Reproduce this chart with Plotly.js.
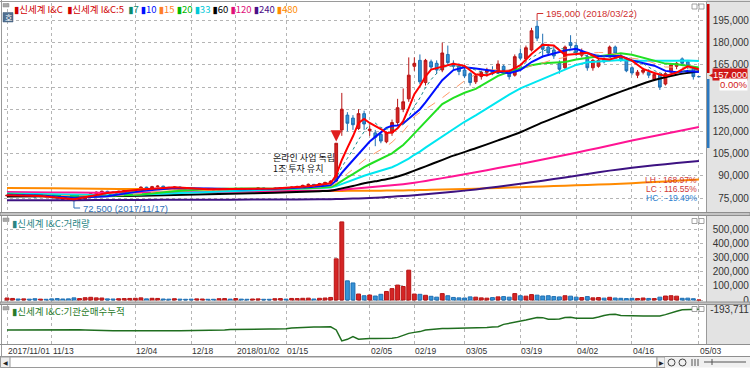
<!DOCTYPE html>
<html><head><meta charset="utf-8">
<script src="https://cdn.plot.ly/plotly-3.0.1.min.js"></script>
<style>html,body{margin:0;padding:0;background:#fff;overflow:hidden}#chart{width:750px;height:368px}</style>
</head><body><div id="chart"></div>
<script>
// ---------------- DATA ----------------
const dates = [].concat(
 ['01','02','03','06','07','08','09','10','13','14','15','16','17','20','21','22','23','24','27','28','29','30'].map(d=>'2017/11/'+d),
 ['01','04','05','06','07','08','11','12','13','14','15','18','19','20','21','22','26','27','28'].map(d=>'2017/12/'+d),
 ['02','03','04','05','08','09','10','11','12','15','16','17','18','19','22','23','24','25','26','29','30','31'].map(d=>'2018/01/'+d),
 ['01','02','05','06','07','08','09','12','13','14','19','20','21','22','23','26','27','28'].map(d=>'2018/02/'+d),
 ['02','05','06','07','08','09','12','13','14','15','16','19','20','21','22','23','26','27','28','29','30'].map(d=>'2018/03/'+d),
 ['02','03','04','05','06','09','10','11','12','13','16','17','18','19','20','23','24','25','26','27','30'].map(d=>'2018/04/'+d),
 ['02','03'].map(d=>'2018/05/'+d));

const openP = [76500,76800,77200,76600,77000,76300,75900,76200,75900,75200,
74600,74000,73800,73300,74300,76500,78000,79000,79500,79000,
78800,79500,80100,80500,81200,82300,81800,82600,83000,82200,
81500,82400,81600,81000,80600,80900,81300,80700,80400,80800,
81200,80900,81500,81100,80700,81300,81800,81400,81000,81600,
82000,81700,82300,82800,83500,84200,83800,84700,85500,86500,
121000,131000,129000,122000,132000,120500,119000,118000,113000,119000,
126000,135000,142000,164000,168000,153000,167000,166000,161500,172000,
166000,164000,161500,159000,153500,157000,160000,161000,160000,164000,
161000,158000,172500,169000,175000,191000,179000,177000,175000,166000,
163000,180000,178000,171500,170500,163000,164000,168500,171500,177000,
171000,169000,163000,158000,160000,160000,155000,158000,152000,160000,
164000,169000,167000,163000,157000];
const highP = [77300,77800,77500,77400,77200,76800,76700,76500,76200,75600,
75000,74600,74100,74800,76800,78500,79500,80000,79900,79400,
79900,80500,81000,81700,82900,82600,83200,83600,83300,82500,
82900,82700,81900,81400,81300,81700,81500,81000,81100,81600,
81400,81900,81700,81300,81600,82200,82000,81600,81900,82400,
82200,82700,83300,84000,84800,84500,85200,86000,87000,112000,
146000,133000,131000,135000,134000,124000,121000,119000,120000,128000,
142000,149000,170000,170000,172000,169000,168500,168000,180000,178000,
168000,166000,163000,160000,159000,161000,163000,164000,168000,165000,
162000,172000,176000,178000,190000,195000,186000,179000,178000,168000,
178000,185000,180000,176000,172000,169000,169000,170000,178000,178000,
173000,170000,164000,161500,163000,162000,160000,159000,160000,166000,
167000,170000,168000,164000,157000];
const lowP = [76000,76500,76200,76300,76000,75500,75600,75600,74900,74200,
73700,73400,72500,73000,74000,76200,77600,78600,78700,78300,
78500,79200,79800,80300,81000,81500,81600,82200,81900,81200,
81300,81300,80700,80300,80400,80600,80400,80100,80100,80500,
80600,80700,80800,80400,80500,81000,81100,80700,80800,81400,
81400,81500,82000,82500,83200,83400,83500,84300,85000,86000,
117000,120000,121000,121000,121000,117000,110000,112000,112000,117000,
124000,133000,140000,161000,152000,151000,162000,159000,160000,165000,
162000,158000,156000,151000,152000,155000,157000,158000,159000,159500,
155000,157000,168000,167000,174000,181000,170000,171000,169000,159000,
162000,176000,171000,170000,161000,161000,163000,166000,170000,171000,
167000,160000,158000,156000,158500,156000,154000,148000,151000,159000,
162000,165000,162000,155000,157000];
const closeP = [76800,77200,76500,77000,76300,75800,76200,75900,75200,74500,
74000,73800,73200,74300,76500,78000,79000,79500,79000,78800,
79500,80100,80500,81200,82300,81800,82600,83000,82200,81500,
82400,81600,81000,80600,80900,81300,80700,80400,80800,81200,
80900,81500,81100,80700,81300,81800,81400,81000,81600,82000,
81700,82300,82800,83500,84200,83800,84700,85500,86300,112000,
135000,125500,124500,132000,125000,121500,116000,113500,119000,126000,
136000,140000,158000,166000,153500,168000,163500,161500,173000,166500,
164000,160500,157500,153000,157500,160000,161500,159000,165500,161000,
157000,170500,169500,176500,188000,183000,175500,173000,171000,162000,
177000,178000,173500,174000,163000,168000,168000,167000,177000,172500,
169000,161000,159500,160000,161500,158000,158500,150000,159000,165000,
166000,166000,164000,157000,157000];

const volume = [14000,11000,7000,8000,6000,9000,6000,5000,8000,10000,
7000,8000,15000,10000,16000,19000,15000,14000,8000,7000,
9000,10000,11000,12000,15000,8000,12000,11000,7000,6000,
9000,6000,5000,6000,8000,7000,5000,5000,9000,10000,
6000,10000,6000,5000,7000,8000,5000,5000,9000,10000,
6000,11000,10000,12000,13000,7000,12000,14000,18000,290000,
550000,135000,120000,42000,30000,35000,28000,40000,60000,80000,
105000,95000,210000,42000,40000,33000,26000,20000,45000,30000,
18000,15000,14000,22000,20000,15000,13000,17000,22000,24000,
20000,45000,30000,27000,38000,34000,28000,30000,24000,22000,
30000,27000,20000,17000,24000,15000,17000,13000,19000,14000,
12000,10000,12000,10000,14000,11000,10000,20000,28000,30000,
27000,12000,13000,9000,0];

const instCum = [-812000,-810500,-809800,-806000,-804500,-801000,-799500,-795000,-796200,-798000,
-801500,-803000,-806500,-808000,-812600,-821000,-828500,-832000,-834500,-836000,
-838200,-840500,-842000,-841000,-843500,-842800,-841200,-839800,-841500,-840000,
-838500,-837000,-836500,-833000,-826000,-824500,-823000,-822000,-818500,-812000,
-795000,-790500,-789000,-787500,-786000,-785500,-784000,-786200,-783800,-781500,
-779000,-752000,-740500,-733000,-729500,-726000,-722500,-720000,-718500,-812000,
-1140000,-1094000,-1012000,-1090000,-1075000,-1072000,-1071000,-1068000,-1066000,-1060000,
-1035000,-965000,-915000,-885000,-862000,-812000,-793000,-775000,-768000,-766000,
-764000,-760000,-756000,-752000,-746000,-743000,-735000,-722000,-713000,-645000,
-614000,-585000,-562000,-515000,-474000,-436000,-443000,-490000,-494000,-483000,
-436000,-432000,-458000,-464000,-466000,-462000,-424000,-376000,-352000,-343000,
-381000,-389000,-393000,-394000,-392000,-395000,-393000,-390000,-352000,-312000,
-254000,-205000,-196000,-194500,-193711];

const maShortDates = ['2017/11/01','2017/11/09','2017/11/17','2017/11/27','2017/12/05','2017/12/13','2017/12/21','2018/01/03','2018/01/11','2018/01/19','2018/01/24','2018/01/25','2018/01/26','2018/01/29','2018/01/30','2018/01/31','2018/02/01','2018/02/02','2018/02/05','2018/02/06','2018/02/07','2018/02/08','2018/02/09','2018/02/12','2018/02/13','2018/02/14','2018/02/19','2018/02/20','2018/02/21','2018/02/22','2018/02/26','2018/02/28','2018/03/05','2018/03/07','2018/03/09','2018/03/13','2018/03/15','2018/03/19','2018/03/21','2018/03/23','2018/03/27','2018/03/29','2018/04/02','2018/04/04','2018/04/06','2018/04/10','2018/04/12','2018/04/16','2018/04/18','2018/04/20','2018/04/24','2018/04/26','2018/04/30','2018/05/03'];
const ma5 = [76900,76400,74100,78400,80700,82300,80900,81100,81400,82900,84300,84900,90500,100700,108900,116700,125800,128400,125700,123800,121600,119000,119200,122100,126900,135800,145200,150700,157100,161800,163900,165700,164300,158500,157900,160700,160800,164700,172300,178500,178100,171700,172300,173100,169300,168600,170700,167800,162200,159500,157400,159700,164000,162000];
const ma7 = [77000,76600,74700,77100,80200,82300,81200,80900,81300,82600,83800,84400,88600,95900,101800,107600,114400,120000,125100,125600,122600,121600,121900,122400,124600,129800,136900,142600,149600,155000,163400,164300,163800,161700,159100,159100,160200,163400,169700,174300,176600,175600,172900,171200,171600,170100,169200,167700,165800,161100,158100,159700,161200,162000];
const ma10 = [77200,76700,75200,76200,79800,81800,81500,80900,81300,82200,83200,83700,86700,92000,96300,100500,105400,109400,113200,116300,119100,122400,123800,123900,125400,128700,132100,135000,139600,144400,154600,161400,163400,162500,161500,160500,159300,161500,166900,170600,172500,174600,175800,173000,170800,170800,171000,167900,166400,164400,160900,159900,160800,160100];
const ma15 = [77300,76900,76200,76100,78000,80900,81600,81200,81100,81900,82600,82900,85000,88500,91500,94400,97700,100600,103200,105500,107500,109900,112700,116200,119900,124700,130000,132800,135000,137500,142700,148300,154200,158600,161600,161600,161400,162400,164100,166300,168600,170000,172100,172800,173300,173200,171200,169400,168600,166000,163500,163500,163100,160800];
const ma20 = [77600,77000,76000,76300,77400,79500,81000,81500,81200,81600,82200,82500,84000,86700,88900,91100,93700,95800,97800,99600,101200,103000,105200,108000,110800,114600,118700,122200,126400,130300,138500,142700,146100,148700,152900,157500,160300,162400,164700,166000,166500,166900,168600,169900,170700,171600,172800,171800,169700,167600,165800,165400,164400,163200];
const ma33 = [78000,77600,77000,76900,77300,78200,78900,79900,81000,81600,81900,82100,83000,84500,85900,87200,88700,90000,91200,92300,93300,94400,95800,97500,99300,101600,104200,106300,109000,111500,116700,121800,126500,130900,135600,140300,144800,149100,152300,155400,158300,161600,164900,166700,167100,167700,168200,167700,167600,167800,167500,167800,167900,167500];

const maLongDates = ['2017/11/01','2017/11/13','2017/11/23','2017/12/05','2017/12/15','2017/12/28','2018/01/11','2018/01/23','2018/01/25','2018/01/29','2018/01/31','2018/02/02','2018/02/06','2018/02/08','2018/02/12','2018/02/14','2018/02/20','2018/02/22','2018/02/28','2018/03/07','2018/03/13','2018/03/19','2018/03/23','2018/03/29','2018/04/04','2018/04/10','2018/04/16','2018/04/20','2018/04/26','2018/05/03'];
const ma60 = [76000,76100,76200,76600,77200,77800,78500,79600,79900,81500,83100,84900,86300,87600,89500,92100,94900,97800,103600,108600,113900,119400,126100,132100,138200,144100,149600,154700,158300,160600];
const ma120 = [79000,78800,78600,78700,78900,79200,79500,79900,80100,80600,81200,81900,82600,83200,83900,84800,85900,87100,89700,92400,95200,98000,101000,104000,107200,110500,113800,116900,120000,123000];
const ma240 = [73400,73500,73600,73700,73800,73900,74000,74100,74200,74400,74600,74900,75200,75600,76100,76600,77200,77800,79200,80800,82600,84600,86700,88900,91200,93500,95400,97100,98600,100000];
const ma480 = [81800,81600,81300,81000,80700,80400,80100,79800,79800,79800,79850,79900,79950,80000,80100,80200,80350,80500,80900,81300,81800,82300,82800,83300,83800,84300,85000,85800,86600,87500];

const priceTicks = [75000,90000,105000,120000,135000,150000,165000,180000,195000];
const priceTickText = ['75,000','90,000','105,000','120,000','135,000','','165,000','180,000','195,000'];
const volTicks = [0,100000,200000,300000,400000,500000];
const volTickText = ['0','100,000','200,000','300,000','400,000','500,000'];
const instTicks = [-193711];
const instTickText = ['-193,711'];
const xTickDates = ['2017/11/01','2017/11/13','2017/12/04','2017/12/18','2018/01/02','2018/01/15','2018/02/05','2018/02/19','2018/03/05','2018/03/19','2018/04/02','2018/04/16','2018/05/03'];
const xTickText = ['2017/11/01','11/13','12/04','12/18','2018/01/02','01/15','02/05','02/19','03/05','03/19','04/02','04/16','05/03'];

const highMark = {date:'2018/03/22', price:195000, label:'195,000 (2018/03/22)'};
const lowMark = {date:'2017/11/17', price:72500, label:'72,500 (2017/11/17)'};
const eventMark = {date:'2018/01/26', lines:['온라인 사업 독립','1조 투자 유치']};
const lastPrice = '157,000', lastChange = '0.00%';
const statLines = [['LH : 168.97%','#d03a3a'],['LC : 116.55%','#d03a3a'],['HC : -19.49%','#2f7fd0']];
const name = '신세계 I&amp;C';

// ---------------- LAYOUT HELPERS ----------------
const W=750,H=368;
const fx = p => p/W, fy = p => 1-p/H;
const dom = (top,bot) => [1-bot/H, 1-top/H];
const xPix0 = 4, xPix1 = 706.5, slot = 5.58, firstX = 7;
const xr = [(xPix0-firstX)/slot, (xPix1-firstX)/slot];
const priceAt = (y) => 75000 + (198-y)*15000/22.2;
const FONT = 'Noto Sans CJK KR, DejaVu Sans, sans-serif';
const NUMFONT = 'Liberation Sans, Arial, sans-serif';
const RED='#d42525', REDL='#b81414', BLUE='#3592d6', BLUEL='#1f6fb3';

const xBase = {type:'category', categoryorder:'array', categoryarray:dates, range:xr,
  showgrid:true, gridcolor:'#b5b5b5', griddash:'dot', gridwidth:1, tickvals:xTickDates,
  ticks:'', showline:false, zeroline:false, showticklabels:false, fixedrange:true};

const traces = [];
const addMA = (xs, ys, color, width, dash, shape) => traces.push({type:'scatter', mode:'lines', x:xs, y:ys,
  xaxis:'x', yaxis:'y', line:{color, width, dash:dash||'solid', shape:shape||'linear', smoothing:0.6}, hoverinfo:'skip'});

addMA(maLongDates, ma480, '#ff8a00', 2, null, 'spline');
addMA(maLongDates, ma240, '#3d1282', 2, null, 'spline');
addMA(maLongDates, ma120, '#ff1493', 2, null, 'spline');
addMA(maLongDates, ma60, '#000000', 2, null, 'spline');
traces.push({type:'candlestick', x:dates, open:openP, high:highP, low:lowP, close:closeP, xaxis:'x', yaxis:'y',
  increasing:{line:{color:REDL, width:1}, fillcolor:RED}, decreasing:{line:{color:BLUEL, width:1}, fillcolor:BLUE},
  whiskerwidth:0, hoverinfo:'skip'});
addMA(maShortDates, ma33, '#00e6f0', 2);
addMA(maShortDates, ma20, '#22e022', 2);
addMA(maShortDates, ma15, '#ff9a6a', 1, 'dash');
addMA(maShortDates, ma10, '#0010ff', 2);
addMA(maShortDates, ma7, '#1a8a8a', 1, 'dot');
addMA(maShortDates, ma5, '#ff0000', 2);

const volColors = closeP.map((c,i)=> c>=openP[i] ? RED : BLUE);
const volLines = closeP.map((c,i)=> c>=openP[i] ? REDL : BLUEL);
traces.push({type:'bar', x:dates, y:volume, xaxis:'x2', yaxis:'y2', marker:{color:volColors, line:{color:volLines, width:1}}, hoverinfo:'skip'});
traces.push({type:'scatter', mode:'lines', x:dates, y:instCum, xaxis:'x3', yaxis:'y3', line:{color:'#1f6e1f', width:1.5}, hoverinfo:'skip'});

const yBase = {side:'left', anchor:'free', position:0.9985, ticks:'', showline:false, zeroline:false, fixedrange:true,
  tickfont:{family:NUMFONT, size:10, color:'#333'}, gridcolor:'#b5b5b5', griddash:'dot'};

const layout = {
  width:W, height:H, margin:{l:0,r:0,t:0,b:0}, paper_bgcolor:'#ffffff', plot_bgcolor:'rgba(0,0,0,0)',
  showlegend:false, hovermode:false, bargap:0.3, boxgap:0.3,
  font:{family:FONT, size:10, color:'#333'},
  xaxis: Object.assign({}, xBase, {domain:[fx(xPix0), fx(xPix1)], anchor:'y', rangeslider:{visible:false}}),
  xaxis2: Object.assign({}, xBase, {domain:[fx(xPix0), fx(xPix1)], anchor:'y2'}),
  xaxis3: Object.assign({}, xBase, {domain:[fx(xPix0), fx(xPix1)], anchor:'y3'}),
  yaxis: Object.assign({}, yBase, {domain:dom(3,212.5), range:[priceAt(212.5), priceAt(3)], tickvals:priceTicks, ticktext:priceTickText, showgrid:true}),
  yaxis2: Object.assign({}, yBase, {domain:dom(216,302), range:[-14085, 591550], tickvals:volTicks, ticktext:volTickText, showgrid:true}),
  yaxis3: Object.assign({}, yBase, {domain:dom(305,344), range:[-1233711, -63711], tickvals:instTicks, ticktext:instTickText, showgrid:false}),
  shapes:[], annotations:[]
};
const S = layout.shapes, A = layout.annotations;
const rectP = (x0,y0,x1,y1,fill,lc,lw,layer) => S.push({type:'rect', xref:'paper', yref:'paper', x0:fx(x0), x1:fx(x1), y0:fy(y1), y1:fy(y0), fillcolor:fill, line:{color:lc||fill, width:lw||0}, layer:layer||'above'});
const lineP = (x0,y0,x1,y1,color,w) => S.push({type:'line', xref:'paper', yref:'paper', x0:fx(x0), x1:fx(x1), y0:fy(y0), y1:fy(y1), line:{color, width:w||1}});
const textP = (t,x,y,opts) => A.push(Object.assign({text:t, xref:'paper', yref:'paper', x:fx(x), y:fy(y), showarrow:false, xanchor:'left', yanchor:'middle', font:{family:FONT, size:9.5, color:'#333'}}, opts||{}));

// right axis area
rectP(706.5,0,750,344,'#e3e3e3',null,0,'below');
// frames & separators
lineP(0,1.5,750,1.5,'#9a9a9a');
lineP(1.5,0,1.5,356,'#9a9a9a');
lineP(706.5,1.5,706.5,344,'#9a9a9a');
rectP(0,212.5,750,215.5,'#c4c4c4','#8e8e8e',1);
rectP(0,302,750,304.5,'#c4c4c4','#8e8e8e',1);
lineP(0,344.5,750,344.5,'#8e8e8e');
lineP(0,356.5,750,356.5,'#8e8e8e');
// price range bars in axis
rectP(707,4,709.5,73,'#cc0000');
rectP(707,79,709.5,148,'#2a78c0');
// panel icons
[3.5,218,306.5].forEach(y=>rectP(3,y,9,y+3.5,'#a8a8a8','#888',0.5));
[4,218.5,306.5].forEach(y=>{ rectP(692,y,697,y+5,'#ffffff','#8a8a8a',0.8); rectP(699,y,704,y+5,'#ffffff','#8a8a8a',0.8); });
// 호 box
rectP(3,12.5,13,22,'#52708f','#3d5a78',0.5);
textP('호',8,17.3,{xanchor:'center', font:{family:FONT,size:8,color:'#fff'}});

// legend
textP('<span style="color:#d00000">▮'+name+'  ▮'+name+':5</span>  <span style="color:#0b8a6e">▮7</span> <span style="color:#0010ff">▮10</span> <span style="color:#ff7f27">▮15</span> <span style="color:#00b800">▮20</span> <span style="color:#00c8d8">▮33</span> <span style="color:#000">▮60</span> <span style="color:#e0107a">▮120</span> <span style="color:#4b0f87">▮240</span> <span style="color:#ff8c00">▮480</span>', 12, 8.5, {font:{family:FONT,size:9.5}});
textP('▮'+name+':거래량', 10, 222.5, {font:{family:FONT,size:9.5,color:'#2a8484'}});
textP('▮'+name+':기관순매수누적', 10, 310.5, {font:{family:FONT,size:9.5,color:'#2a7a2a'}});

// x-axis date labels (left-aligned at their gridlines)
xTickDates.forEach((d,i)=>A.push({text:xTickText[i], xref:'x3', yref:'paper', x:dates.indexOf(d), y:fy(350.5), xanchor:'left', yanchor:'middle', xshift:-1, showarrow:false, font:{family:NUMFONT,size:8.5,color:'#333'}}));

// high / low markers
const hi = dates.indexOf(highMark.date), lo = dates.indexOf(lowMark.date);
const hiTop = priceAt(13.5), loBot = priceAt(208);
S.push({type:'line', xref:'x', yref:'y', x0:hi, x1:hi, y0:highMark.price, y1:hiTop, line:{color:'#d03030', width:1}});
S.push({type:'line', xref:'x', yref:'y', x0:hi, x1:hi+1.1, y0:hiTop, y1:hiTop, line:{color:'#d03030', width:1}});
A.push({text:highMark.label, xref:'x', yref:'y', x:hi+1.2, y:hiTop, showarrow:false, xanchor:'left', yanchor:'middle', font:{family:NUMFONT,size:9.5,color:'#d03030'}});
S.push({type:'line', xref:'x', yref:'y', x0:lo, x1:lo, y0:lowMark.price, y1:loBot, line:{color:'#2f6fb8', width:1}});
S.push({type:'line', xref:'x', yref:'y', x0:lo, x1:lo+1.1, y0:loBot, y1:loBot, line:{color:'#2f6fb8', width:1}});
A.push({text:lowMark.label, xref:'x', yref:'y', x:lo+1.2, y:loBot, showarrow:false, xanchor:'left', yanchor:'middle', font:{family:NUMFONT,size:9.5,color:'#2f6fb8'}});

// event
const ev = dates.indexOf(eventMark.date);
textP(eventMark.lines[0], 271, 157.5, {font:{family:FONT,size:9,color:'#111'}});
textP(eventMark.lines[1], 271, 168, {font:{family:FONT,size:9,color:'#111'}});
A.push({text:'', xref:'x', yref:'y', x:ev, y:priceAt(141.5), ax:0, ay:-8, showarrow:true, arrowhead:2, arrowsize:0.9, arrowwidth:2.5, arrowcolor:'#e02020'});

// stats
statLines.forEach((s,i)=>textP(s[0], 699, 179.5+i*9, {xanchor:'right', font:{family:NUMFONT,size:8.5,color:s[1]}}));

// last price box
textP(lastPrice, 747.5, 75, {xanchor:'right', bgcolor:'#d01818', borderpad:0, font:{family:NUMFONT,size:9.5,color:'#ffffff'}});
textP(lastChange, 747.5, 85, {xanchor:'right', bgcolor:'#ffffff', borderpad:0, font:{family:NUMFONT,size:9.5,color:'#d02020'}});
textP('◀', 706.5, 75, {xanchor:'left', font:{family:'DejaVu Sans',size:6,color:'#d01818'}});

// scrollbar
rectP(0.5,357,657,367.5,'#ffffff','#9a9a9a',1);
rectP(0.5,357,10,367.5,'#eeeeee','#9a9a9a',1);
textP('◀',5.5,362.3,{xanchor:'center', font:{family:'DejaVu Sans',size:6,color:'#222'}});
rectP(657,357,665,367.5,'#eeeeee','#9a9a9a',1);
textP('▶',661,362.3,{xanchor:'center', font:{family:'DejaVu Sans',size:6,color:'#222'}});
rectP(665,357,750,367.5,'#f0f0f0',null,0);
S.push({type:'circle', xref:'paper', yref:'paper', x0:fx(668), x1:fx(675), y0:fy(366), y1:fy(359), line:{color:'#444',width:1}});
S.push({type:'circle', xref:'paper', yref:'paper', x0:fx(679), x1:fx(686), y0:fy(366), y1:fy(359), line:{color:'#444',width:1}});
lineP(692,359,692,366,'#555'); lineP(695,359,695,366,'#555'); lineP(698,359,698,366,'#555');
lineP(704,362,746,362,'#555'); lineP(712,359,712,365,'#555');

Plotly.newPlot('chart', traces, layout, {staticPlot:true, displayModeBar:false});
</script></body></html>
